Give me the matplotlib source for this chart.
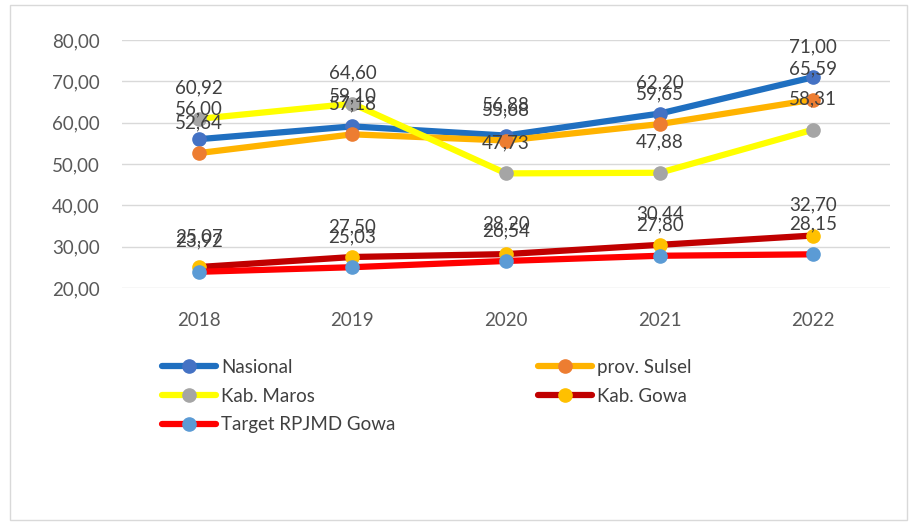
import matplotlib.pyplot as plt
from matplotlib.patches import Rectangle

plt.rcParams['font.family'] = ['Lato', 'DejaVu Sans']

# Data
years = ['2018', '2019', '2020', '2021', '2022']
nasional = [56.00, 59.10, 56.88, 62.20, 71.00]
sulsel = [52.64, 57.18, 55.68, 59.65, 65.59]
maros = [60.92, 64.60, 47.73, 47.88, 58.31]
gowa = [25.07, 27.50, 28.20, 30.44, 32.70]
target = [23.92, 25.03, 26.54, 27.80, 28.15]
y_ticks = [20, 30, 40, 50, 60, 70, 80]

series = [
    ('Nasional', nasional, '#1F6FC0', '#4472C4'),
    ('prov. Sulsel', sulsel, '#FFB300', '#ED7D31'),
    ('Kab. Maros', maros, '#FFFF00', '#A5A5A5'),
    ('Kab. Gowa', gowa, '#C00000', '#FFC000'),
    ('Target RPJMD Gowa', target, '#FF0000', '#5B9BD5'),
]

def fmt(v):
    return f'{v:.2f}'.replace('.', ',')

fig = plt.figure(figsize=(9.09, 5.23), dpi=100)
ax = fig.add_axes([122 / 909, 1 - 288 / 523, (890 - 122) / 909, (288 - 40) / 523])

x = list(range(len(years)))
handles = {}
for name, vals, lc, mc in series:
    h, = ax.plot(x, vals, color=lc, linewidth=4.5, marker='o', markersize=9.5,
                 markerfacecolor=mc, markeredgecolor=mc, solid_capstyle='round',
                 label=name, zorder=3)
    handles[name] = h

# data labels above points (they overlap, as in the original)
for name, vals, lc, mc in series:
    for xi, v in zip(x, vals):
        ax.annotate(fmt(v), (xi, v), xytext=(0, 22), textcoords='offset points',
                    ha='center', va='center', fontsize=13.5, color='#404040', zorder=5)

ax.set_xlim(-0.5, 4.5)
ax.set_ylim(20, 80)
ax.set_yticks(y_ticks)
ax.set_yticklabels([fmt(t) for t in y_ticks])
ax.set_xticks(x)
ax.set_xticklabels(years)
ax.tick_params(axis='both', length=0, labelsize=13.5, labelcolor='#595959')
ax.tick_params(axis='y', pad=16)
ax.tick_params(axis='x', pad=17)
ax.grid(axis='y', color='#D9D9D9', linewidth=1)
ax.set_axisbelow(True)
for s in ax.spines.values():
    s.set_visible(False)

order = ['Nasional', 'Kab. Maros', 'Target RPJMD Gowa', 'prov. Sulsel', 'Kab. Gowa']
leg = fig.legend([handles[n] for n in order], order, ncol=2, loc='upper left',
                 bbox_to_anchor=(145 / 909, 1 - 342 / 523), frameon=False,
                 fontsize=13.5, handlelength=2.9, handletextpad=0.25,
                 columnspacing=7.6, labelspacing=0.62, labelcolor='#404040')

fig.add_artist(Rectangle((10 / 909, 3 / 523), 897 / 909, 515 / 523,
                         transform=fig.transFigure, fill=False,
                         edgecolor='#D9D9D9', linewidth=1))

fig.savefig('out.png', dpi=100)
